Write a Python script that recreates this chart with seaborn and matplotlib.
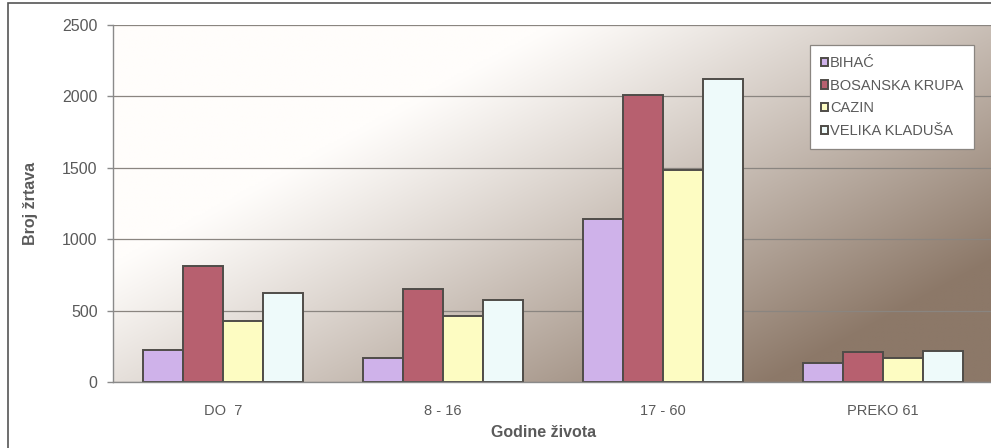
import numpy as np
import pandas as pd
import seaborn as sns
import matplotlib.pyplot as plt
from matplotlib.patches import Rectangle
from matplotlib.ticker import FixedLocator

categories = ["DO  7", "8 - 16", "17 - 60", "PREKO 61"]
towns = ["BIHAĆ", "BOSANSKA KRUPA", "CAZIN", "VELIKA KLADUŠA"]
bihac = [225, 170, 1140, 130]
bosanska_krupa = [810, 650, 2010, 210]
cazin = [430, 465, 1485, 170]
velika_kladusa = [625, 575, 2125, 220]
colors = ["#cfb2ea", "#b7606f", "#fdfcc2", "#eefafa"]
y_ticks = [0, 500, 1000, 1500, 2000, 2500]

rows = []
for town, vals in zip(towns, [bihac, bosanska_krupa, cazin, velika_kladusa]):
    for cat, v in zip(categories, vals):
        rows.append({"age": cat, "victims": v, "town": town})
df = pd.DataFrame(rows)

sns.set_style("white")
plt.rcParams["font.family"] = ["Liberation Sans", "DejaVu Sans"]
txt = "#5a5a5a"

fig = plt.figure(figsize=(9.91, 4.48), dpi=100)
ax = fig.add_axes([113 / 991, 66 / 448, 878 / 991, 357 / 448])

# frame of the scanned page (only left/top edges visible)
fig.patches.append(Rectangle((8 / 991, -0.2), 1.2, 1.2 - 3 / 448,
                             transform=fig.transFigure, fill=False,
                             edgecolor="#555555", linewidth=1.2))

sns.barplot(data=df, x="age", y="victims", hue="town", order=categories,
            hue_order=towns, palette=colors, saturation=1, width=0.73,
            edgecolor="#4f4c48", linewidth=1.4, errorbar=None, ax=ax)

# background gradient of the plot area (row 0 = top)
u = np.linspace(0, 1, 300)
v = np.linspace(0, 1, 200)
U, V = np.meshgrid(u, v)
t = np.clip(U + 0.75 * V - 0.5, 0, 1) ** 1.1
light = np.array([255, 253, 251]) / 255
dark = np.array([140, 120, 104]) / 255
img = light[None, None, :] * (1 - t[..., None]) + dark[None, None, :] * t[..., None]
ax.imshow(img, extent=[0, 1, 0, 1], transform=ax.transAxes, aspect="auto",
          origin="upper", zorder=0, interpolation="bilinear")

ax.set_xlim(-0.5, 3.49)
ax.set_ylim(0, 2500)
ax.set_yticks(y_ticks)
ax.set_axisbelow(True)
ax.grid(axis="y", color="#8a8580", linewidth=0.9)
ax.grid(axis="x", visible=False)

for s in ["top", "right"]:
    ax.spines[s].set_visible(False)
for s in ["left", "bottom"]:
    ax.spines[s].set_color("#8a8a8a")
    ax.spines[s].set_linewidth(1.0)

ax.xaxis.set_minor_locator(FixedLocator([0.5, 1.5, 2.5]))
ax.tick_params(axis="x", which="major", length=0, pad=16, labelsize=10.5, labelcolor=txt)
ax.tick_params(axis="x", which="minor", length=4, direction="out", color="#8a8a8a", width=1)
ax.tick_params(axis="y", length=4, direction="out", color="#8a8a8a", width=1, left=True,
               pad=7, labelsize=11.5, labelcolor=txt)

ax.set_xlabel("Godine života", fontsize=11.5, fontweight="bold", color=txt)
ax.set_ylabel("Broj žrtava", fontsize=11.5, fontweight="bold", color=txt)
ax.xaxis.set_label_coords(0.49, -0.12)
ax.yaxis.set_label_coords(-0.085, 0.5)

handles, labels = ax.get_legend_handles_labels()
leg = ax.legend(handles, labels, loc="upper right",
                bbox_to_anchor=(974 / 991, 1 - 45 / 448), bbox_transform=fig.transFigure,
                frameon=True, fancybox=False, fontsize=10.5, handlelength=0.5,
                handleheight=0.5, handletextpad=0.1, labelspacing=0.6,
                borderpad=0.75, borderaxespad=0, labelcolor=txt)
leg.get_frame().set_facecolor("white")
leg.get_frame().set_edgecolor("#8a8580")
leg.get_frame().set_alpha(1)
leg.get_frame().set_linewidth(0.9)

fig.savefig("out.png", dpi=100)
